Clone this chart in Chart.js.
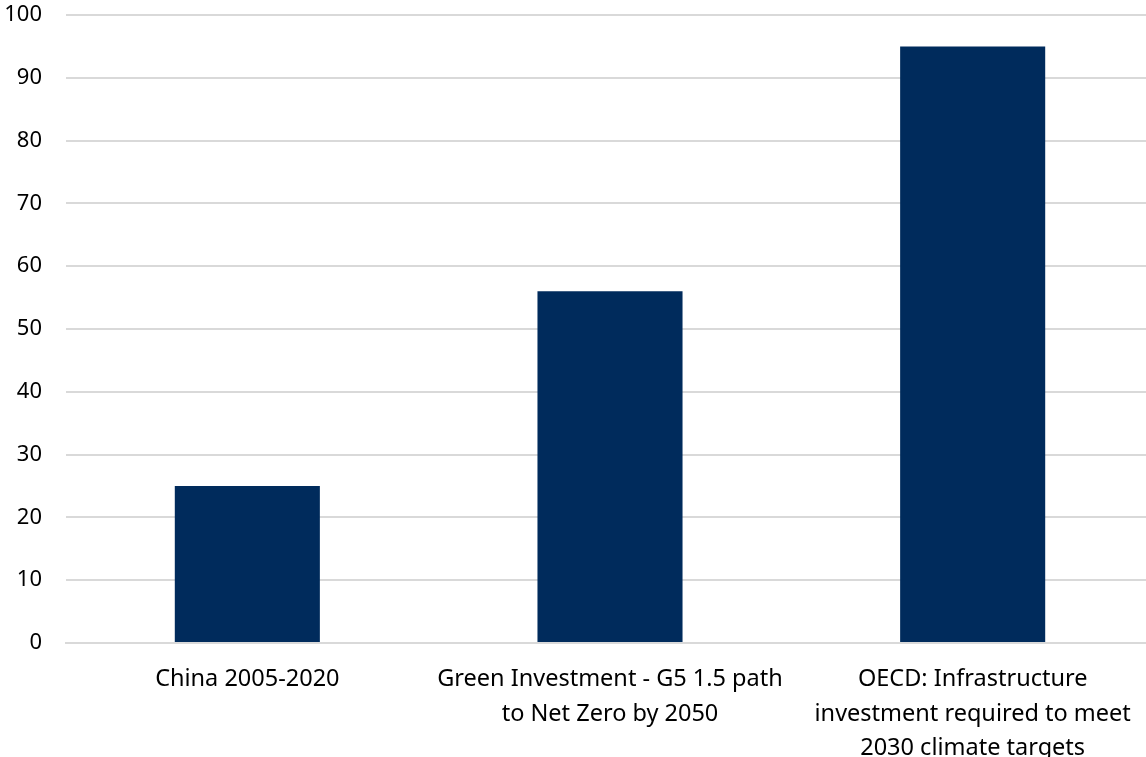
<!DOCTYPE html>
<html>
<head>
<meta charset="utf-8">
<script src="https://cdn.jsdelivr.net/npm/chart.js@4"></script>
<style>
  html, body { margin:0; padding:0; background:#fff; overflow:hidden; }
  #wrap { width:1154px; height:757px; }
</style>
</head>
<body>
<div id="wrap"><canvas id="chart" width="1154" height="757"></canvas></div>
<script>
// Chart data
const categories = [
    ['China 2005-2020'],
    ['Green Investment - G5 1.5 path', 'to Net Zero by 2050'],
    ['OECD: Infrastructure', 'investment required to meet', '2030 climate targets']
];
const values = [25, 56, 95];
const yTicks = [0, 10, 20, 30, 40, 50, 60, 70, 80, 90, 100];

const ctx = document.getElementById('chart').getContext('2d');

new Chart(ctx, {
    type: 'bar',
    data: {
        labels: categories,
        datasets: [{
            data: values,
            backgroundColor: '#002B5C',
            borderWidth: 0,
            barPercentage: 1,
            categoryPercentage: 0.4
        }]
    },
    options: {
        responsive: false,
        animation: false,
        layout: { padding: { top: 15, right: 0, left: 0, bottom: 0 } },
        plugins: { legend: { display: false }, tooltip: { enabled: false } },
        scales: {
            y: {
                min: 0, max: 100,
                afterBuildTicks: axis => { axis.ticks = yTicks.map(v => ({ value: v })); },
                afterFit: axis => { axis.width = 66; axis.paddingTop = 0; axis.paddingBottom = 0; },
                grid: { color: '#d9d9d9', lineWidth: 2, drawTicks: false },
                border: { display: false },
                ticks: {
                    padding: 24,
                    color: '#000',
                    font: { family: 'Noto Sans', size: 22 }
                }
            },
            x: {
                afterFit: axis => { axis.height = 114; axis.paddingLeft = 0; axis.paddingRight = 0; },
                grid: { display: false, drawTicks: false },
                border: { display: true, color: '#d9d9d9', width: 2 },
                ticks: {
                    padding: 19,
                    maxRotation: 0,
                    autoSkip: false,
                    color: '#000',
                    font: { family: 'Noto Sans', size: 23.5, lineHeight: 1.47 }
                }
            }
        }
    }
});
</script>
</body>
</html>
